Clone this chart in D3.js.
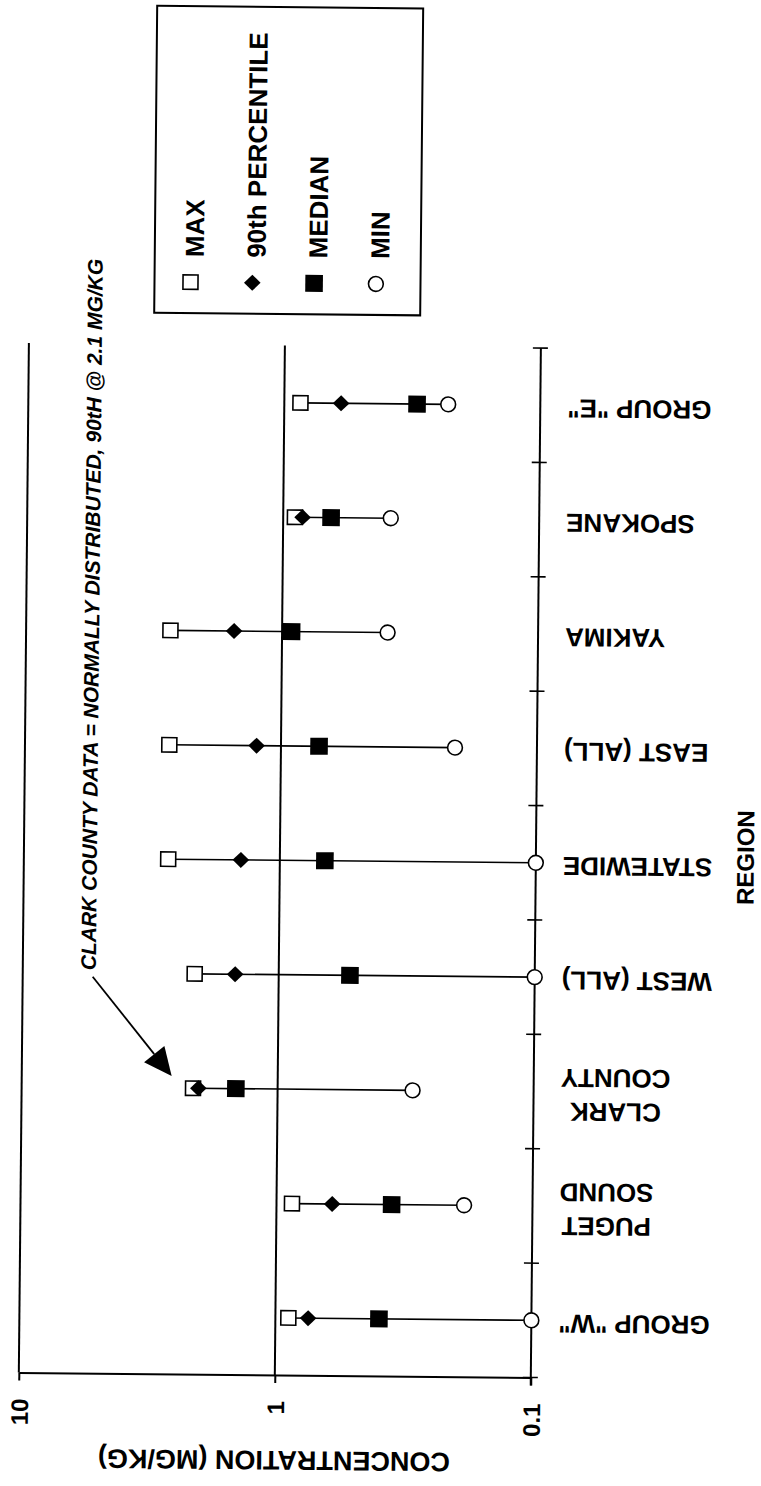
<!DOCTYPE html>
<html>
<head>
<meta charset="utf-8">
<script src="https://cdnjs.cloudflare.com/ajax/libs/d3/7.8.5/d3.min.js"></script>
<style>
  body { margin: 0; background: #fff; }
  text { font-family: "Liberation Sans", Arial, Helvetica, sans-serif; font-weight: bold; fill: #000; }
</style>
</head>
<body>
<div id="chart"></div>
<script>
// values (mg/kg), bottom region first
var regions    = ['GROUP "W"', "PUGET\nSOUND", "CLARK\nCOUNTY", "WEST (ALL)", "STATEWIDE", "EAST (ALL)", "YAKIMA", "SPOKANE", 'GROUP "E"'];
var maxVals    = [0.89, 0.87, 2.14, 2.13, 2.73, 2.73, 2.73, 0.90, 0.865];
var p90Vals    = [0.745, 0.606, 2.04, 1.48, 1.42, 1.245, 1.54, 0.84, 0.60];
var medianVals = [0.394, 0.355, 1.456, 0.527, 0.667, 0.71, 0.918, 0.65, 0.303];
var minVals    = [0.1, 0.185, 0.297, 0.1, 0.1, 0.209, 0.387, 0.38, 0.229];
var valueTicks = [10, 1, 0.1];
var gridValues = [10, 1];
var seriesNames = ["MAX", "90th PERCENTILE", "MEDIAN", "MIN"];
var noteText = "CLARK COUNTY DATA = NORMALLY DISTRIBUTED, 90tH @ 2.1 MG/KG";
var noteRegion = "CLARK\nCOUNTY";

var width = 761, height = 1486;

var svg = d3.select("#chart").append("svg")
    .attr("width", width)
    .attr("height", height);

svg.append("rect").attr("width", width).attr("height", height).attr("fill", "#fff");

// the page sits a little crooked on the scanner
var g = svg.append("g").attr("transform", "rotate(0.56,380,743)");

// chart is printed sideways: concentration runs across, regions run down
var x = d3.scaleLog().domain([10, 0.1]).range([25, 537]);
var y = d3.scaleBand().domain(regions).range([1376, 346.5]);
var top_ = y.range()[1], base = y.range()[0];

function cy(d) { return y(d) + y.bandwidth() / 2; }

// border at 10 and gridline at 1
g.selectAll(".grid")
    .data(gridValues)
  .enter().append("line")
    .attr("class", "grid")
    .attr("x1", function(d) { return x(d); })
    .attr("x2", function(d) { return x(d); })
    .attr("y1", top_)
    .attr("y2", base)
    .attr("stroke", "#000")
    .attr("stroke-width", 2);

// concentration axis
var xAxis = d3.axisBottom(x)
    .tickValues(valueTicks)
    .tickSize(8)
    .tickSizeOuter(0)
    .tickFormat(function(d) { return String(d); });

var gx = g.append("g")
    .attr("transform", "translate(0," + base + ")")
    .call(xAxis);

gx.select(".domain").attr("stroke-width", 2);
gx.selectAll(".tick line").attr("stroke-width", 2);
gx.selectAll(".tick text")
    .attr("transform", "rotate(-90)")
    .attr("x", -26)
    .attr("y", 9)
    .attr("dy", 0)
    .attr("text-anchor", "end")
    .style("font-size", "24px")
    .style("font-family", '"Liberation Sans", Arial, sans-serif')
    .style("font-weight", "bold");

// region axis, ticks sit between the regions
var gy = g.append("g").attr("transform", "translate(" + x(0.1) + ",0)");
gy.append("line")
    .attr("y1", top_)
    .attr("y2", base + 8)
    .attr("stroke", "#000")
    .attr("stroke-width", 2);

var bounds = regions.map(function(d) { return y(d); }).concat([base]);
gy.selectAll(".btick")
    .data(bounds)
  .enter().append("line")
    .attr("class", "btick")
    .attr("x1", -8)
    .attr("x2", 7)
    .attr("y1", function(d) { return d; })
    .attr("y2", function(d) { return d; })
    .attr("stroke", "#000")
    .attr("stroke-width", 1.6);

// region labels, upside down, block starts just right of the axis
var labelLeft = x(0.1) + 27;
regions.forEach(function(r) {
  var lines = r.split("\n");
  var n = lines.length;
  var lg = g.append("g")
      .attr("transform", "translate(" + labelLeft + "," + cy(r) + ") rotate(180)");
  var texts = lg.selectAll("text")
      .data(lines)
    .enter().append("text")
      .attr("y", function(d, i) { return 6 - (n - 1) * 17 + i * 34; })
      .attr("text-anchor", "middle")
      .style("font-size", "26px")
      .text(function(d) { return d; });
  var w = d3.max(texts.nodes(), function(t) { return t.getComputedTextLength(); });
  texts.attr("x", -w / 2);
});

// axis titles
g.append("text")
    .attr("transform", "translate(" + x(1) + ",1452) rotate(180)")
    .attr("text-anchor", "middle")
    .style("font-size", "27px")
    .text("CONCENTRATION (MG/KG)");

g.append("text")
    .attr("transform", "translate(755,854) rotate(-90)")
    .attr("text-anchor", "middle")
    .style("font-size", "24px")
    .text("REGION");

// range line per region, max to min
g.selectAll(".range")
    .data(regions)
  .enter().append("line")
    .attr("class", "range")
    .attr("x1", function(d, i) { return x(maxVals[i]); })
    .attr("x2", function(d, i) { return x(minVals[i]); })
    .attr("y1", cy)
    .attr("y2", cy)
    .attr("stroke", "#000")
    .attr("stroke-width", 1.6);

// marker shapes
var shapes = [
  function(sel) { sel.append("rect").attr("x", -7.5).attr("y", -7.2).attr("width", 15).attr("height", 14.4).attr("fill", "#fff").attr("stroke", "#000").attr("stroke-width", 1.6); },
  function(sel) { sel.append("path").attr("d", "M0,-8L8.3,0L0,8L-8.3,0Z").attr("fill", "#000"); },
  function(sel) { sel.append("rect").attr("x", -8.8).attr("y", -8.5).attr("width", 17.6).attr("height", 17).attr("fill", "#000"); },
  function(sel) { sel.append("circle").attr("r", 7.4).attr("fill", "#fff").attr("stroke", "#000").attr("stroke-width", 1.6); }
];
var series = [maxVals, p90Vals, medianVals, minVals];

series.forEach(function(vals, s) {
  g.selectAll(".m" + s)
      .data(regions)
    .enter().append("g")
      .attr("class", "m" + s)
      .attr("transform", function(d, i) { return "translate(" + x(vals[i]) + "," + cy(d) + ")"; })
      .each(function() { shapes[s](d3.select(this)); });
});

// legend
var legend = g.append("g");
legend.append("rect")
    .attr("x", 150).attr("y", 8)
    .attr("width", 266).attr("height", 307)
    .attr("fill", "none")
    .attr("stroke", "#000")
    .attr("stroke-width", 2);

seriesNames.forEach(function(name, i) {
  var lx = 186 + i * 61.8;
  var item = legend.append("g").attr("transform", "translate(" + lx + ",284)");
  shapes[i](item);
  legend.append("text")
      .attr("transform", "translate(" + (lx + 13) + ",259) rotate(-90)")
      .style("font-size", "26px")
      .text(name);
});

// note about clark county with arrow
var noteX = 98, noteY = 973;
g.append("text")
    .attr("transform", "translate(" + noteX + "," + noteY + ") rotate(-90)")
    .style("font-size", "21px")
    .style("font-style", "italic")
    .text(noteText);

var ni = regions.indexOf(noteRegion);
var tip = [x(maxVals[ni]) - 21.5, cy(noteRegion) - 12];
var tail = [noteX - 3, noteY + 6.5];
var dx = tip[0] - tail[0], dy = tip[1] - tail[1];
var len = Math.sqrt(dx * dx + dy * dy);
var ux = dx / len, uy = dy / len;
var headL = 28, headW = 13;
var bx = tip[0] - headL * ux, by = tip[1] - headL * uy;

g.append("line")
    .attr("x1", tail[0]).attr("y1", tail[1])
    .attr("x2", bx).attr("y2", by)
    .attr("stroke", "#000")
    .attr("stroke-width", 1.8);

g.append("path")
    .attr("d", d3.line()([
      tip,
      [bx - headW * uy, by + headW * ux],
      [bx + headW * uy, by - headW * ux]
    ]) + "Z")
    .attr("fill", "#000");
</script>
</body>
</html>
